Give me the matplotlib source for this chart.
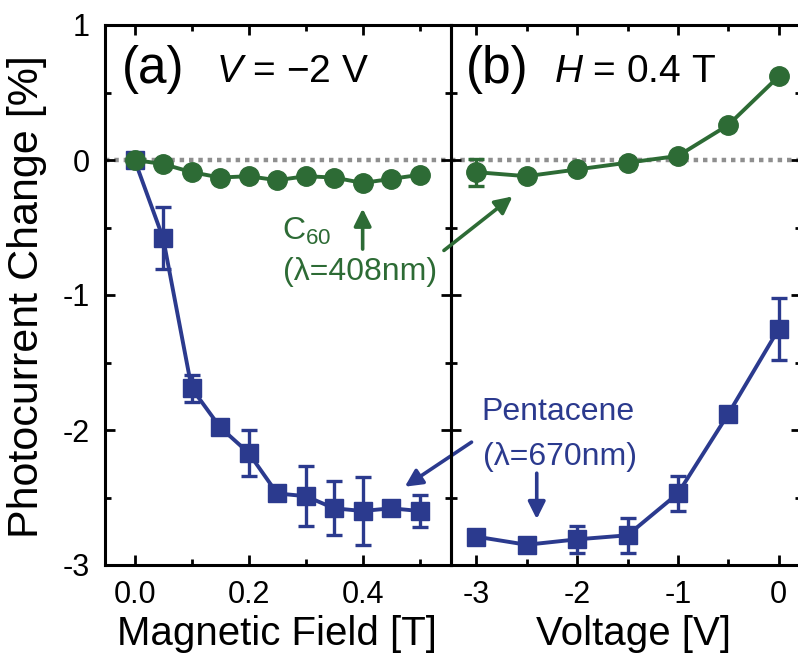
import matplotlib
matplotlib.use('Agg')
import matplotlib.pyplot as plt
from matplotlib.ticker import MultipleLocator, FixedLocator

plt.rcParams['font.family'] = ['Liberation Sans', 'DejaVu Sans']
plt.rcParams['mathtext.fontset'] = 'custom'
plt.rcParams['mathtext.rm'] = 'Liberation Sans'
plt.rcParams['mathtext.it'] = 'Liberation Sans:italic'
plt.rcParams['axes.unicode_minus'] = False

# ---- data: panel (a) vs magnetic field ----
field = [0.0, 0.05, 0.10, 0.15, 0.20, 0.25, 0.30, 0.35, 0.40, 0.45, 0.50]
pent_field = [0.0, -0.58, -1.69, -1.98, -2.17, -2.47, -2.49, -2.58, -2.60, -2.58, -2.60]
pent_field_err = [0.0, 0.23, 0.10, 0.0, 0.17, 0.0, 0.22, 0.20, 0.25, 0.0, 0.12]
c60_field = [0.0, -0.03, -0.09, -0.13, -0.12, -0.15, -0.12, -0.13, -0.17, -0.14, -0.11]

# ---- data: panel (b) vs voltage ----
voltage = [-3.0, -2.5, -2.0, -1.5, -1.0, -0.5, 0.0]
pent_volt = [-2.79, -2.85, -2.81, -2.78, -2.47, -1.88, -1.25]
pent_volt_err = [0.0, 0.0, 0.10, 0.13, 0.13, 0.0, 0.23]
c60_volt = [-0.09, -0.12, -0.07, -0.02, 0.03, 0.26, 0.62]
c60_volt_err = [0.10, 0.0, 0.0, 0.0, 0.0, 0.0, 0.0]

BLUE = '#2b3a8e'
GREEN = '#2d6b35'
GRAY = '#8f8f8f'

W, H = 798, 655
fig = plt.figure(figsize=(W / 100, H / 100), dpi=100)

def px(x0, y0, x1, y1):
    return [x0 / W, 1 - y1 / H, (x1 - x0) / W, (y1 - y0) / H]

ax_a = fig.add_axes(px(105, 25, 451, 565))
ax_b = fig.add_axes(px(451, 25, 801, 565))
ax_b.patch.set_visible(False)

for ax in (ax_a, ax_b):
    ax.set_ylim(-3, 1)
    ax.yaxis.set_major_locator(MultipleLocator(1))
    ax.yaxis.set_minor_locator(MultipleLocator(0.5))
    ax.tick_params(which='both', direction='in', top=True, right=True,
                   width=2.0, labelsize=22, pad=11)
    ax.tick_params(which='major', length=7)
    ax.tick_params(which='minor', length=4)
    for s in ax.spines.values():
        s.set_linewidth(2.2)
    ax.axhline(0, color=GRAY, lw=3.2, ls=(0, (1, 1.1)), dash_capstyle='butt', zorder=1)

ax_a.set_xlim(-0.052, 0.555)
ax_a.xaxis.set_major_locator(FixedLocator([0.0, 0.2, 0.4]))
ax_a.xaxis.set_minor_locator(MultipleLocator(0.1))
ax_a.set_xticklabels(['0.0', '0.2', '0.4'])

ax_b.set_xlim(-3.25, 0.22)
ax_b.xaxis.set_major_locator(MultipleLocator(1))
ax_b.xaxis.set_minor_locator(MultipleLocator(0.5))
ax_b.tick_params(labelleft=False)

ekw = dict(lw=2.8, capsize=6, capthick=2.4, elinewidth=2.4, zorder=3)
ax_a.errorbar(field, pent_field, yerr=pent_field_err, color=BLUE, marker='s',
              ms=13.5, **ekw)
ax_a.errorbar(field, c60_field, color=GREEN, marker='o', ms=14,
              lw=2.8, zorder=4)
ax_b.errorbar(voltage, pent_volt, yerr=pent_volt_err, color=BLUE, marker='s',
              ms=13.5, **ekw)
ax_b.errorbar(voltage, c60_volt, yerr=c60_volt_err, color=GREEN, marker='o',
              ms=14, lw=2.8, capsize=6, capthick=2.4, elinewidth=2.4, zorder=4)

# panel titles
ax_a.text(122 / W, 1 - 70 / H, '(a)', transform=fig.transFigure, fontsize=37,
          ha='left', va='center')
ax_a.text(216 / W, 1 - 72 / H, '$V$ = \u22122 V', transform=fig.transFigure,
          fontsize=28, ha='left', va='center')
ax_b.text(466 / W, 1 - 70 / H, '(b)', transform=fig.transFigure, fontsize=37,
          ha='left', va='center')
ax_b.text(554 / W, 1 - 72 / H, '$H$ = 0.4 T', transform=fig.transFigure,
          fontsize=28, ha='left', va='center')

arrow_kw = dict(arrowstyle='-|>', lw=2.6, mutation_scale=26, shrinkA=0, shrinkB=0)

# C60 annotation
ax_a.text(0.258, -0.53, 'C$_{60}$', color=GREEN, fontsize=23, ha='left', va='center')
ax_a.text(0.395, -0.83, '(\u03bb=408nm)', color=GREEN, fontsize=23, ha='center', va='center')
ax_a.annotate('', xy=(0.4, -0.36), xytext=(0.4, -0.66),
              arrowprops=dict(color=GREEN, **arrow_kw))
ax_b.annotate('', xy=(-2.64, -0.27), xytext=(-3.32, -0.67),
              arrowprops=dict(color=GREEN, **arrow_kw),
              annotation_clip=False)

# Pentacene annotation
ax_b.text(-2.19, -1.87, 'Pentacene', color=BLUE, fontsize=23, ha='center', va='center')
ax_b.text(-2.17, -2.20, '(\u03bb=670nm)', color=BLUE, fontsize=23, ha='center', va='center')
ax_b.annotate('', xy=(-2.40, -2.66), xytext=(-2.40, -2.32),
              arrowprops=dict(color=BLUE, **arrow_kw))
ax_a.annotate('', xy=(0.474, -2.42), xytext=(0.591, -2.09),
              arrowprops=dict(color=BLUE, **arrow_kw),
              annotation_clip=False)

# axis labels
fig.text(277 / W, 1 - 645 / H, 'Magnetic Field [T]', fontsize=29, ha='center', va='baseline')
fig.text(634 / W, 1 - 645 / H, 'Voltage [V]', fontsize=29, ha='center', va='baseline')
fig.text(27 / W, 1 - 297 / H, 'Photocurrent Change [%]', fontsize=31, rotation=90,
         ha='center', va='center')

fig.savefig('out.png', dpi=100)
